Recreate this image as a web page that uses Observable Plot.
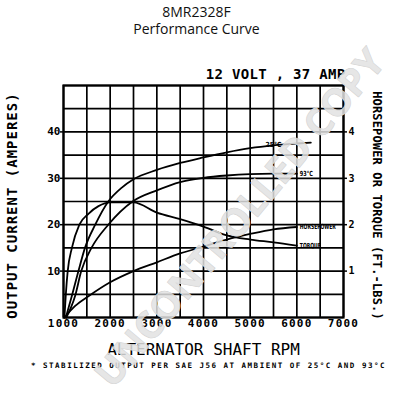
<!DOCTYPE html>
<html><head><meta charset="utf-8">
<script src="https://cdn.jsdelivr.net/npm/d3@7"></script>
<script src="https://cdn.jsdelivr.net/npm/@observablehq/plot@0.6"></script>
<style>
body{margin:0;background:#fff;width:393px;height:400px;overflow:hidden}
#title{font-family:"Open Sans",sans-serif;font-size:14px;text-align:center;line-height:17px;padding-top:3px;height:35px;color:#111}
</style></head><body>
<div id="title"><div>8MR2328F</div><div>Performance Curve</div></div>
<div id="chart"></div>
<script>
// ---- data ----
const rpmAmps25 = [1050,1180,1320,1460,1680,1960,2250,2500,3000,3500,4000,4500,5000,5500,6000,6300];
const amps25    = [0,4.7,10,15,20,25,28,29.8,31.8,33.3,34.5,35.6,36.5,37.1,37.5,37.7];
const rpmAmps93 = [1060,1250,1380,1600,1960,2480,3000,3500,4000,4500,5000,5500,6000];
const amps93    = [0,4.7,10,15,20,25,27.4,29.2,30.1,30.6,30.9,31,31];
const rpmHp     = [1020,1250,1550,2000,2500,3000,3500,4000,4500,5000,5500,6000];
const horsepower= [0,0.25,0.47,0.76,1.0,1.19,1.38,1.53,1.68,1.80,1.90,1.95];
const rpmTorque = [1020,1050,1090,1180,1340,1540,1750,2000,2500,3000,3500,4000,4500,5000,5500,6000];
const torque    = [0,0.5,1.0,1.5,2.0,2.24,2.4,2.48,2.48,2.26,2.12,1.96,1.77,1.68,1.62,1.55];
const seriesNames = ["25°C","93°C","HORSEPOWER","TORQUE"];
const labelRpm    = [5500, 6000, 6000, 6000];
const rpmTicks  = [1000,2000,3000,4000,5000,6000,7000];
const rpmGrid   = [1000,1500,2000,2500,3000,3500,4000,4500,5000,5500,6000,6500,7000];
const ampTicks  = [10,20,30,40];
const ampGrid   = [0,5,10,15,20,25,30,35,40,45,50];
const rightTicks= [1,2,3,4];
const titleRating = "12 VOLT , 37 AMP";
const yLabelLeft  = "OUTPUT CURRENT (AMPERES)";
const yLabelRight = "HORSEPOWER OR TORQUE (FT.-LBS.)";
const xLabel      = "ALTERNATOR SHAFT RPM";
const footnote    = "* STABILIZED OUTPUT PER SAE J56 AT AMBIENT OF 25°C AND 93°C";
const watermark   = "UNCONTROLLED COPY";

// build table (HP / torque share the y scale at 10 amps per unit)
const rows = [];
rpmAmps25.forEach((r,i)=>rows.push({series:seriesNames[0], rpm:r, v:amps25[i]}));
rpmAmps93.forEach((r,i)=>rows.push({series:seriesNames[1], rpm:r, v:amps93[i]}));
rpmHp.forEach((r,i)=>rows.push({series:seriesNames[2], rpm:r, v:horsepower[i]*10}));
rpmTorque.forEach((r,i)=>rows.push({series:seriesNames[3], rpm:r, v:torque[i]*10}));

const labelRows = seriesNames.map((s,k)=>{
  const pts = rows.filter(d=>d.series===s);
  const p = pts.find(d=>d.rpm===labelRpm[k]) || pts[pts.length-1];
  const isEnd = p === pts[pts.length-1];
  return {...p, label:s, isEnd};
});

const mono = "DejaVu Sans Mono";
const lblFont = "Liberation Sans Narrow, DejaVu Sans Condensed, Liberation Sans, sans-serif";
const chart = Plot.plot({
  width:393, height:362,
  marginTop:47, marginBottom:83, marginLeft:63, marginRight:50,
  x:{domain:[1000,7000]},
  y:{domain:[0,50]},
  style:{fontFamily:mono, background:"white", color:"black", overflow:"visible"},
  marks:[
    Plot.gridX(rpmGrid, {stroke:"black", strokeOpacity:1, strokeWidth:1.7}),
    Plot.gridY(ampGrid, {stroke:"black", strokeOpacity:1, strokeWidth:1.7}),
    Plot.frame({stroke:"black", strokeWidth:2.2}),
    Plot.axisX(rpmTicks, {tickSize:0, tickPadding:2, fontSize:11, fontWeight:"bold", label:null, tickFormat:d=>String(d)}),
    Plot.axisY(ampTicks, {anchor:"left", tickSize:3, tickPadding:0, fontSize:11, fontWeight:"bold", label:null, strokeWidth:1.5}),
    Plot.axisY(rightTicks.map(v=>v*10), {anchor:"right", tickSize:3, tickPadding:2, fontSize:10, fontWeight:"bold", label:null, tickFormat:d=>String(d/10), strokeWidth:1.5}),
    Plot.line(rows, {x:"rpm", y:"v", z:"series", stroke:"black", strokeWidth:1.8, curve:"monotone-x"}),
    Plot.text(labelRows.filter(d=>d.isEnd), {x:"rpm", y:"v", text:"label", textAnchor:"start", dx:3, fontSize:7, fontWeight:900, fontFamily:lblFont, fill:"black"}),
    Plot.text(labelRows.filter(d=>!d.isEnd), {x:"rpm", y:"v", text:"label", textAnchor:"middle", dy:-1, fontSize:7, fontWeight:900, fontFamily:lblFont, fill:"black"}),
    Plot.text([titleRating], {frameAnchor:"top-right", textAnchor:"end", lineAnchor:"middle", dx:2, dy:-11, fontSize:14, fontWeight:"bold"}),
    Plot.text([yLabelLeft], {frameAnchor:"left", textAnchor:"middle", lineAnchor:"middle", rotate:-90, dx:-51, dy:4, fontSize:14, fontWeight:"bold"}),
    Plot.text([yLabelRight], {frameAnchor:"right", textAnchor:"middle", lineAnchor:"middle", rotate:90, dx:33, dy:4, fontSize:12, fontWeight:"bold"}),
    Plot.text([xLabel], {frameAnchor:"bottom", textAnchor:"middle", lineAnchor:"middle", dy:32, fontSize:16}),
    Plot.text([footnote], {frameAnchor:"bottom", textAnchor:"middle", lineAnchor:"middle", dx:5, dy:48, fontSize:7.5, fontWeight:"bold"}),
    Plot.text([watermark], {frameAnchor:"middle", textAnchor:"middle", lineAnchor:"middle", dx:37, dy:17, rotate:-50, fontSize:38, fontWeight:"bold", fontFamily:"Open Sans", fill:"#e2e2e2", fillOpacity:0.85, stroke:"#cfcfcf", strokeWidth:0.8})
  ]
});

// text styling touches (letter spacing / label compression)
const svg = d3.select(chart);
function styleText(str, attrs){
  svg.selectAll("text").filter(function(){ return this.textContent === str; })
    .each(function(){ for (const k in attrs) this.setAttribute(k, attrs[k]); });
}
styleText(yLabelLeft, {"letter-spacing":"1"});
styleText(yLabelRight, {"letter-spacing":"0.15"});
styleText(titleRating, {"letter-spacing":"0.3"});
styleText(footnote, {"letter-spacing":"1.5"});
rpmTicks.forEach(t=>styleText(String(t), {"letter-spacing":"1.2"}));
const lblWidths = {"25°C":16, "93°C":13, "HORSEPOWER":36, "TORQUE":21};
for (const k in lblWidths) styleText(k, {textLength:lblWidths[k], lengthAdjust:"spacingAndGlyphs"});
document.getElementById("chart").appendChild(chart);
</script>
</body></html>
